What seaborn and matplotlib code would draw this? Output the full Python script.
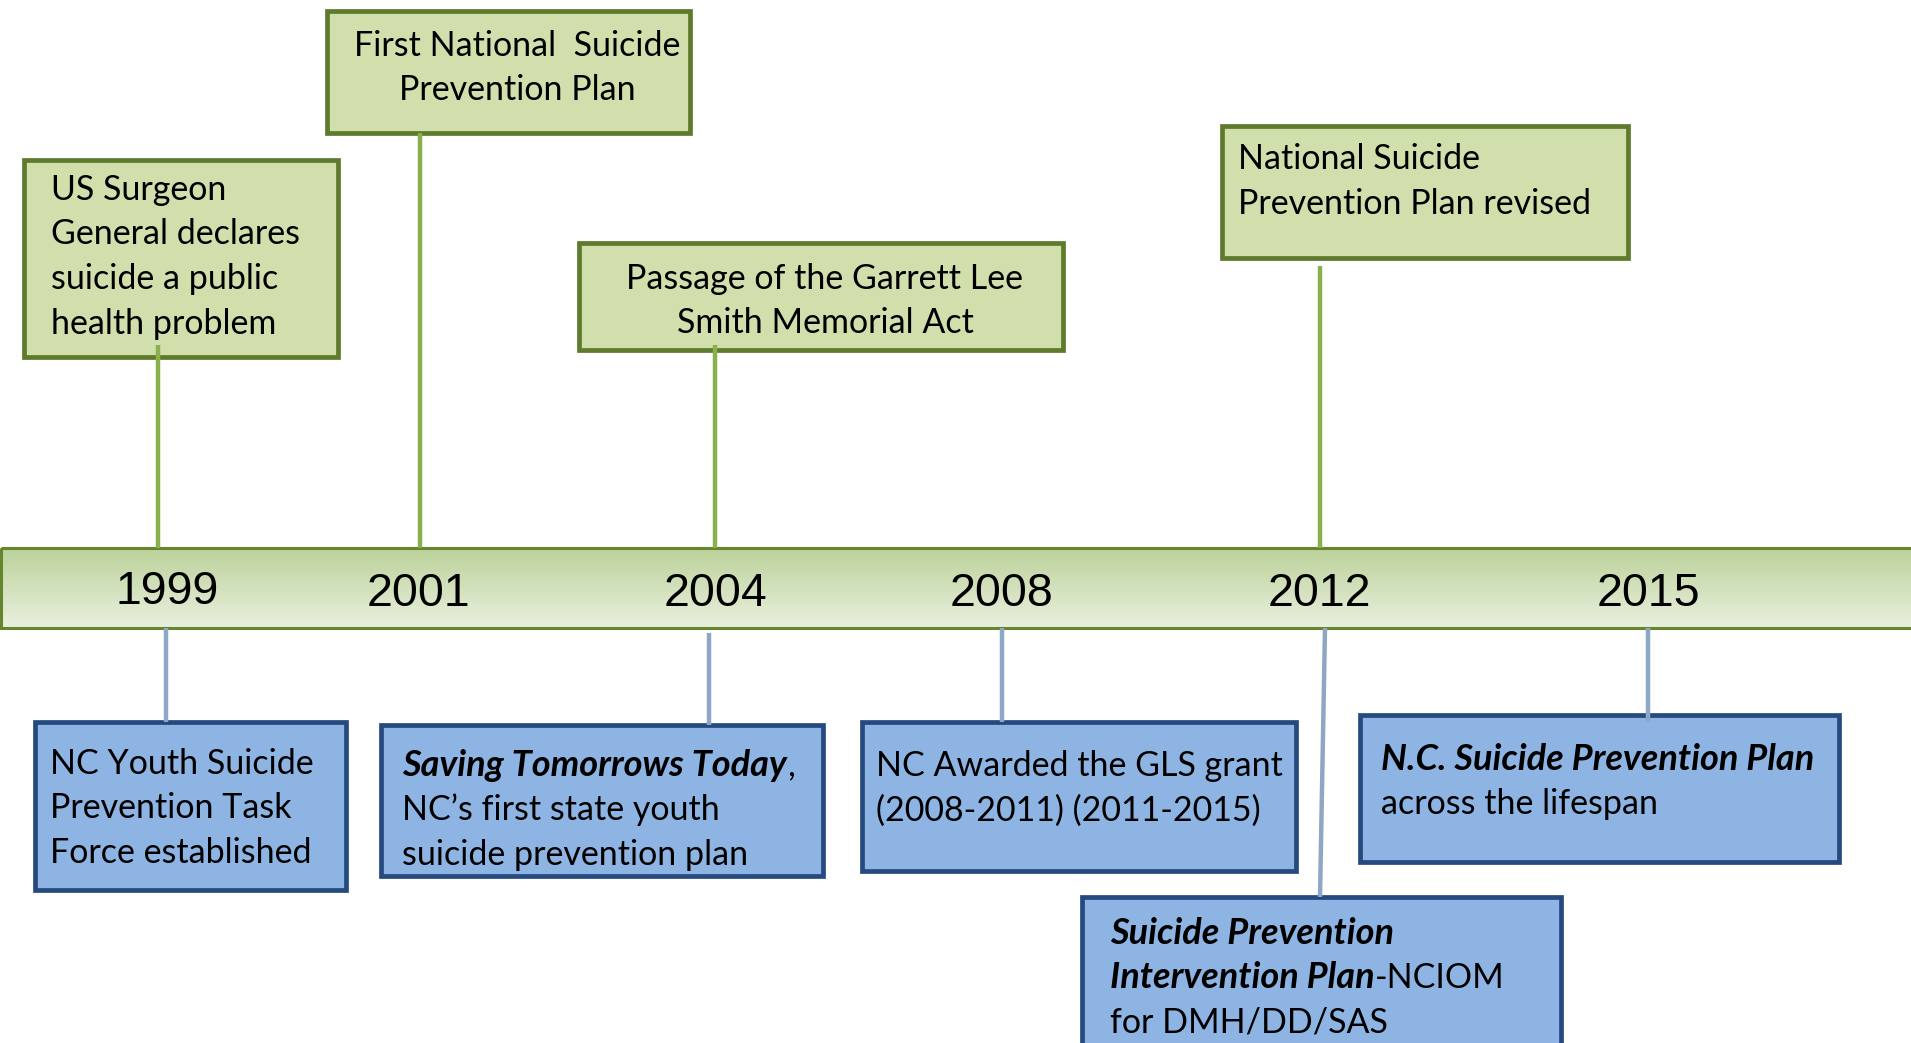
import matplotlib
matplotlib.use("Agg")
import numpy as np
import matplotlib.pyplot as plt
from matplotlib.patches import Rectangle
from matplotlib.colors import LinearSegmentedColormap
import seaborn as sns

# ---- data -------------------------------------------------------------
years = ["1999", "2001", "2004", "2008", "2012", "2015"]

# national milestones (above the bar)
national_lines = [
    ["US Surgeon", "General declares", "suicide a public", "health problem"],
    ["First National  Suicide", "Prevention Plan"],
    ["Passage of the Garrett Lee", "Smith Memorial Act"],
    ["National Suicide", "Prevention Plan revised"],
]

# NC milestones (below the bar); each line is a list of (run, bold_italic)
state_lines = [
    [[("NC Youth Suicide", False)], [("Prevention Task", False)],
     [("Force established", False)]],
    [[("Saving Tomorrows Today", True), (",", False)],
     [("NC\u2019s first state youth", False)],
     [("suicide prevention plan", False)]],
    [[("NC Awarded the GLS grant", False)], [("(2008-2011) (2011-2015)", False)]],
    [[("N.C. Suicide Prevention Plan", True)], [("across the lifespan", False)]],
    [[("Suicide Prevention", True)],
     [("Intervention Plan", True), ("-NCIOM", False)],
     [("for DMH/DD/SAS", False)]],
]

# ---- layout (pixels, y down) -------------------------------------------
W, H = 1911, 1043
bar_top, bar_bot = 548, 628
year_x = [167, 418, 715, 1002, 1319, 1648]
year_y = [592, 594, 594, 594, 594, 594]

nat_box = [(24, 160, 338, 357), (327, 11, 690, 133),
           (579, 243, 1063, 350), (1222, 126, 1628, 258)]
nat_text_x = [51, 517, 825, 1238]
nat_align = ["left", "center", "center", "left"]
nat_line_y = [[190, 234, 279, 324], [46, 90], [279, 323], [159, 204]]
nat_conn = [(158, 345), (420, 133), (715, 345), (1320, 266)]

st_box = [(35, 722, 346, 890), (381, 725, 823, 876), (862, 722, 1296, 871),
          (1360, 715, 1839, 862), (1082, 897, 1561, 1060)]
st_text_x = [50, 402, 876, 1381, 1110]
st_line_y = [[764, 808, 853], [765, 810, 855], [766, 811], [759, 804],
             [934, 978, 1023]]
st_conn = [((166, 628), (166, 722)), ((709, 633), (709, 725)),
           ((1002, 628), (1002, 722)), ((1648, 628), (1648, 722)),
           ((1325, 628), (1320, 897))]

GREEN_FILL, GREEN_EDGE, GREEN_LINE = "#d0dfac", "#5e7a2c", "#8ab04c"
BLUE_FILL, BLUE_EDGE, BLUE_LINE = "#8eb4e3", "#264a80", "#8fa7c6"

sns.set_theme(style="white")
plt.rcParams["font.family"] = ["Lato", "DejaVu Sans"]
FS = 24.5
FS_BI = 26

fig = plt.figure(figsize=(W / 100, H / 100), dpi=100)
ax = fig.add_axes([0, 0, 1, 1])

# gradient bar
cmap = LinearSegmentedColormap.from_list("bar", ["#bcd29a", "#e9f0df"])
grad = np.linspace(0, 1, 100).reshape(-1, 1)
ax.imshow(grad, cmap=cmap, aspect="auto", extent=(0, W + 10, bar_bot, bar_top),
          origin="upper", zorder=1)
ax.add_patch(Rectangle((1, bar_top), W + 20, bar_bot - bar_top, fill=False,
                       edgecolor="#66852f", lw=2.2, zorder=2))
for yr, x, y in zip(years, year_x, year_y):
    ax.text(x, y, yr, ha="center", va="center", fontsize=33.5,
            family="Liberation Sans", color="black", zorder=5)

# national boxes
for lines, (x0, y0, x1, y1), tx, al, ly, (cx, cy) in zip(
        national_lines, nat_box, nat_text_x, nat_align, nat_line_y, nat_conn):
    ax.add_patch(Rectangle((x0, y0), x1 - x0, y1 - y0, facecolor=GREEN_FILL,
                           edgecolor=GREEN_EDGE, lw=3.4, zorder=3))
    ax.plot([cx, cx], [cy, bar_top], color=GREEN_LINE, lw=3.2, zorder=4,
            solid_capstyle="butt")
    for s, y in zip(lines, ly):
        ax.text(tx, y, s, ha=al, va="center", fontsize=FS, color="black",
                zorder=5)

# state boxes
for lines, (x0, y0, x1, y1), tx, ly, (p0, p1) in zip(
        state_lines, st_box, st_text_x, st_line_y, st_conn):
    ax.add_patch(Rectangle((x0, y0), x1 - x0, y1 - y0, facecolor=BLUE_FILL,
                           edgecolor=BLUE_EDGE, lw=3.4, zorder=3))
    ax.plot([p0[0], p1[0]], [p0[1], p1[1]], color=BLUE_LINE, lw=3.2, zorder=4,
            solid_capstyle="butt")
    for runs, y in zip(lines, ly):
        prev = None
        for s, bi in runs:
            kw = dict(fontsize=FS_BI if bi else FS, color="black", zorder=5,
                      fontweight="bold" if bi else "normal",
                      fontstyle="italic" if bi else "normal")
            if prev is None:
                prev = ax.text(tx, y, s, ha="left", va="center", **kw)
            else:
                # continue on the same baseline, right after the previous run
                prev = ax.annotate(s, xy=(1, 0), xycoords=prev, ha="left",
                                   va="bottom", **kw)

ax.set_xlim(0, W)
ax.set_ylim(H, 0)
ax.axis("off")
fig.savefig("out.png", dpi=100)
